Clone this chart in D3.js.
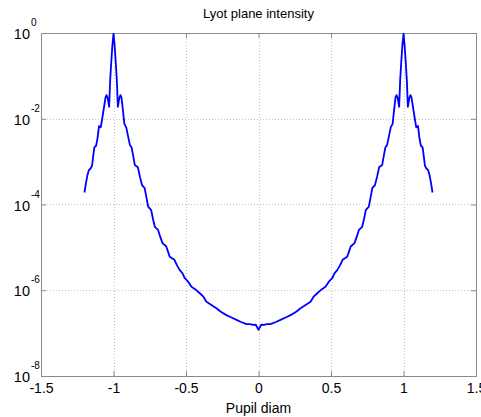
<!DOCTYPE html>
<html>
<head>
<meta charset="utf-8">
<script src="https://cdn.jsdelivr.net/npm/d3@7"></script>
<style>
  body { margin: 0; background: #fff; }
  text { font-family: "Liberation Sans", Arial, sans-serif; fill: #000; }
</style>
</head>
<body>
<svg id="chart" width="481" height="417"></svg>
<script>
// pupil diameter positions
const pupilDiam = [
  -1.2, -1.19, -1.18, -1.17, -1.158, -1.148, -1.14, -1.132, -1.12, -1.11, -1.1, -1.088, -1.078, -1.065,
  -1.055, -1.048, -1.04, -1.03, -1.023, -1.016, -1.008, -1.0, -0.992, -0.984, -0.977, -0.97, -0.96,
  -0.952, -0.945, -0.935, -0.925, -0.912, -0.9, -0.887, -0.875, -0.865, -0.853, -0.832, -0.818, -0.803,
  -0.785, -0.772, -0.761, -0.74, -0.727, -0.715, -0.693, -0.678, -0.662, -0.636, -0.624, -0.612, -0.58,
  -0.562, -0.543, -0.525, -0.508, -0.485, -0.462, -0.435, -0.405, -0.38, -0.359, -0.33, -0.29, -0.26,
  -0.221, -0.19, -0.152, -0.12, -0.083, -0.06, -0.037, -0.02, 0,
  0.02, 0.037, 0.06, 0.083, 0.12, 0.152, 0.19, 0.221, 0.26, 0.29, 0.33, 0.359, 0.38, 0.405, 0.435,
  0.462, 0.485, 0.508, 0.525, 0.543, 0.562, 0.58, 0.612, 0.624, 0.636, 0.662, 0.678, 0.693, 0.715,
  0.727, 0.74, 0.761, 0.772, 0.785, 0.803, 0.818, 0.832, 0.853, 0.865, 0.875, 0.887, 0.9, 0.912,
  0.925, 0.935, 0.945, 0.952, 0.96, 0.97, 0.977, 0.984, 0.992, 1.0, 1.008, 1.016, 1.023, 1.03, 1.04,
  1.048, 1.055, 1.065, 1.078, 1.088, 1.1, 1.11, 1.12, 1.132, 1.14, 1.148, 1.158, 1.17, 1.18, 1.19, 1.2
];

// log10 of the intensity at each position
const logIntensity = [
  -3.72, -3.5, -3.32, -3.2, -3.16, -3.1, -2.88, -2.67, -2.63, -2.45, -2.17, -2.2, -2.0, -1.72,
  -1.5, -1.45, -1.52, -1.72, -1.1, -0.71, -0.3, -0.02, -0.3, -0.71, -1.1, -1.72, -1.52,
  -1.45, -1.5, -1.8, -2.12, -2.2, -2.4, -2.61, -2.67, -2.85, -3.08, -3.13, -3.35, -3.55,
  -3.62, -3.85, -4.05, -4.13, -4.35, -4.52, -4.59, -4.75, -4.9, -4.98, -5.1, -5.22, -5.29,
  -5.42, -5.53, -5.6, -5.72, -5.8, -5.92, -5.98, -6.07, -6.15, -6.27, -6.33, -6.42, -6.5,
  -6.58, -6.63, -6.69, -6.74, -6.79, -6.79, -6.81, -6.8, -6.92,
  -6.8, -6.81, -6.79, -6.79, -6.74, -6.69, -6.63, -6.58, -6.5, -6.42, -6.33, -6.27, -6.15, -6.07, -5.98,
  -5.92, -5.8, -5.72, -5.6, -5.53, -5.42, -5.29, -5.22, -5.1, -4.98, -4.9, -4.75, -4.59, -4.52,
  -4.35, -4.13, -4.05, -3.85, -3.62, -3.55, -3.35, -3.13, -3.08, -2.85, -2.67, -2.61, -2.4, -2.2,
  -2.12, -1.8, -1.5, -1.45, -1.52, -1.72, -1.1, -0.71, -0.3, -0.02, -0.3, -0.71, -1.1, -1.72, -1.52,
  -1.45, -1.5, -1.72, -2.0, -2.2, -2.17, -2.45, -2.63, -2.67, -2.88, -3.1, -3.16, -3.2, -3.32, -3.5, -3.72
];

const xTicks = [-1.5, -1, -0.5, 0, 0.5, 1, 1.5];
const yExponents = [0, -2, -4, -6, -8];

const W = 481, H = 417;
const margin = { top: 33, right: 5, bottom: 41, left: 41 };

const svg = d3.select("#chart");

const x = d3.scaleLinear().domain([-1.5, 1.5]).range([margin.left, W - margin.right]);
const y = d3.scaleLog().domain([1e-8, 1]).range([H - margin.bottom, margin.top]);

const data = pupilDiam.map((d, i) => ({ x: d, v: Math.pow(10, logIntensity[i]) }));
const yTicks = yExponents.map(e => Math.pow(10, e));

// grid
const grid = svg.append("g").attr("class", "grid")
  .attr("stroke", "#c4c4c4").attr("stroke-width", 1).attr("stroke-dasharray", "1,2");
grid.selectAll(".vx").data(xTicks.slice(1, -1)).enter().append("line")
  .attr("x1", d => Math.round(x(d)) + 0.5).attr("x2", d => Math.round(x(d)) + 0.5)
  .attr("y1", y.range()[1]).attr("y2", y.range()[0]);
grid.selectAll(".hy").data(yTicks.slice(1, -1)).enter().append("line")
  .attr("y1", d => Math.round(y(d)) + 0.5).attr("y2", d => Math.round(y(d)) + 0.5)
  .attr("x1", x.range()[0]).attr("x2", x.range()[1]);

// axes: ticks inward on every side
const axisColor = "#8a8a8a";
const axBottom = svg.append("g").attr("transform", `translate(0,${H - margin.bottom})`)
  .call(d3.axisBottom(x).tickValues(xTicks).tickSize(-5).tickPadding(7).tickFormat(d => String(d)));
const axTop = svg.append("g").attr("transform", `translate(0,${margin.top})`)
  .call(d3.axisTop(x).tickValues(xTicks).tickSize(-5).tickFormat(""));
const axLeft = svg.append("g").attr("transform", `translate(${margin.left},0)`)
  .call(d3.axisLeft(y).tickValues(yTicks).tickSize(-5).tickFormat(""));
const axRight = svg.append("g").attr("transform", `translate(${W - margin.right},0)`)
  .call(d3.axisRight(y).tickValues(yTicks).tickSize(-5).tickFormat(""));

[axBottom, axTop, axLeft, axRight].forEach(g => {
  g.select(".domain").attr("stroke", axisColor);
  g.selectAll(".tick line").attr("stroke", axisColor);
});
axBottom.selectAll(".tick text").attr("font-size", 14).attr("font-family", "Liberation Sans, Arial, sans-serif");

// y tick labels as 10 with superscript exponent
const ylab = svg.append("g");
yExponents.forEach(e => {
  const yy = y(Math.pow(10, e));
  ylab.append("text").attr("x", 30).attr("y", yy + 6).attr("text-anchor", "end")
    .attr("font-size", 14.5).text("10");
  ylab.append("text").attr("x", 31).attr("y", yy - 7).attr("text-anchor", "start")
    .attr("font-size", 10).text(String(e));
});

// curve
svg.append("path").datum(data)
  .attr("fill", "none").attr("stroke", "#0000ff").attr("stroke-width", 1.8)
  .attr("stroke-linejoin", "round")
  .attr("d", d3.line().x(d => x(d.x)).y(d => y(d.v)));

// title and label
svg.append("text").attr("x", (x.range()[0] + x.range()[1]) / 2).attr("y", 18)
  .attr("text-anchor", "middle").attr("font-size", 13).text("Lyot plane intensity");
svg.append("text").attr("x", (x.range()[0] + x.range()[1]) / 2).attr("y", 413)
  .attr("text-anchor", "middle").attr("font-size", 14).text("Pupil diam");
</script>
</body>
</html>
